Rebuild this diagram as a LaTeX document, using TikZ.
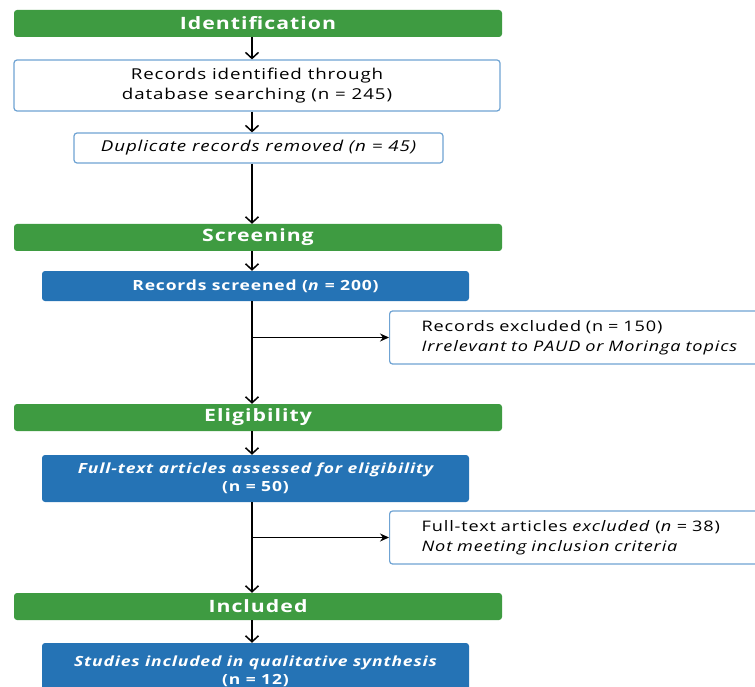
\documentclass[tikz,border=0pt]{standalone}
\usepackage{fontspec}
\setmainfont[FakeStretch=1.25, LetterSpace=6]{Open Sans}
\usetikzlibrary{arrows.meta}
\definecolor{stagegreen}{HTML}{3E9B41}
\definecolor{boxblue}{HTML}{2573B5}
\definecolor{edgeblue}{HTML}{6FA3D3}
\tikzset{
  stage/.style={fill=stagegreen, rounded corners=3pt, minimum width=488pt,
    minimum height=27pt, inner sep=0pt, text=white,
    font=\fontsize{17}{20}\selectfont\bfseries},
  recbox/.style={draw=edgeblue, line width=1.2pt, fill=white, rounded corners=3pt,
    inner sep=0pt, align=center, font=\fontsize{15}{20}\selectfont},
  bluebox/.style={fill=boxblue, rounded corners=3pt, minimum width=427pt,
    inner sep=0pt, align=center, text=white,
    font=\fontsize{14}{18}\selectfont\bfseries},
  exclbox/.style={draw=edgeblue, line width=1.2pt, fill=white, rounded corners=3pt,
    anchor=west, minimum height=53pt, text width=350pt, inner xsep=32pt,
    align=left, font=\fontsize{14.5}{20}\selectfont},
  flow/.style={-{Straight Barb[length=6pt,width=13pt,line width=1.5pt]}, line width=1.5pt},
  side/.style={-{Stealth[length=9pt,width=8pt]}, line width=1pt}
}
\begin{document}
\begin{tikzpicture}[x=1pt, y=-1pt]
    \useasboundingbox (0,0) rectangle (755,687);
    \clip (0,0) rectangle (755,687);
    % trunk of the flow
    \coordinate (t) at (252,0);

    % Identification
    \node[stage] (ident) at (258,23.5) {Identification};
    \node[recbox, minimum width=486pt, minimum height=51pt] (found) at (257,85.5)
        {Records identified through\\database searching (n = 245)};
    \node[recbox, minimum width=369pt, minimum height=30pt] (dup) at (258.5,148)
        {\itshape Duplicate records removed (n = 45)};

    % Screening
    \node[stage] (screen) at (258,237.5) {Screening};
    \node[bluebox, minimum height=30pt] (screened) at (255.5,286)
        {Records screened (\textit{n} = 200)};
    \node[exclbox] (excl1) at (389,337.5)
        {Records excluded (n = 150)\\\textit{Irrelevant to PAUD or Moringa topics}};

    % Eligibility
    \node[stage] (elig) at (258,417.5) {Eligibility};
    \node[bluebox, minimum height=47pt] (fulltext) at (255.5,478.5)
        {\itshape Full-text articles assessed for eligibility\\(n = 50)};
    \node[exclbox] (excl2) at (389,537.5)
        {Full-text articles \textit{excluded} (\textit{n} = 38)\\\textit{Not meeting inclusion criteria}};

    % Included
    \node[stage] (incl) at (258,606.5) {Included};
    \node[bluebox, minimum height=57pt] (studies) at (255.5,671.5)
        {\itshape Studies included in qualitative synthesis\\(n = 12)};

    % Connectors
    \draw[flow] (ident.south -| t) -- (found.north -| t);
    \draw[flow] (found.south -| t) -- (dup.north -| t);
    \draw[flow] (dup.south -| t) -- (screen.north -| t);
    \draw[flow] (screen.south -| t) -- (screened.north -| t);
    \draw[flow] (screened.south -| t) -- (elig.north -| t);
    \draw[side] (excl1.west -| t) -- (excl1.west);
    \draw[flow] (elig.south -| t) -- (fulltext.north -| t);
    \draw[flow] (fulltext.south -| t) -- (incl.north -| t);
    \draw[side] (excl2.west -| t) -- (excl2.west);
    \draw[flow] (incl.south -| t) -- (studies.north -| t);
\end{tikzpicture}
\end{document}
